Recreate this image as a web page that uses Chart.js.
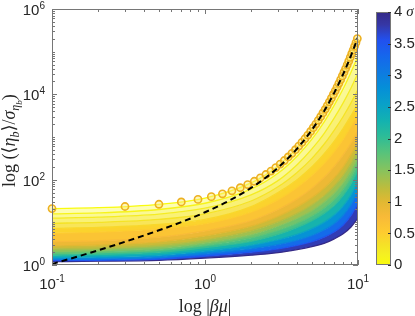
<!DOCTYPE html>
<html>
<head>
<meta charset="utf-8">
<script src="https://cdn.jsdelivr.net/npm/chart.js@4.4.1/dist/chart.umd.min.js"></script>
<style>
  html, body { margin: 0; padding: 0; background: #fff; }
  #wrap { position: relative; width: 415px; height: 316px; }
  #main { position: absolute; left: 0; top: 0; }
  #cbar { position: absolute; left: 360px; top: 0; }
</style>
</head>
<body>
<div id="wrap">
  <canvas id="main" width="415" height="316"></canvas>
  <canvas id="cbar" width="55" height="316"></canvas>
</div>
<script>
// sigma of each drawn curve (colorbar units)
const sigmaLevels = [0, 0.1, 0.2, 0.3, 0.4, 0.5, 0.75, 1, 1.25, 1.5, 1.75, 2, 2.5, 3, 3.5, 4];
// |beta mu| where the curves were read
const curveX = [0.1, 0.2, 0.5, 1, 2, 3, 4, 5, 6, 7, 8, 9, 10];
// <eta_b>/sigma_eta_b, one row per sigma level
const curveValues = [
  [21, 22, 26.5, 37, 84, 210, 556, 1500, 4040, 11000, 29800, 81000, 220000],
  [15.8, 16.6, 20, 28, 60, 141, 355, 890, 2240, 5600, 13500, 33000, 79000],
  [12.6, 13.2, 15.5, 21.4, 44, 95, 224, 525, 1200, 2800, 6300, 14100, 31600],
  [9.5, 10, 11.7, 15.8, 31.6, 68, 148, 316, 676, 1450, 3020, 6300, 13200],
  [7.2, 7.6, 8.9, 11.7, 23.4, 50, 100, 200, 400, 800, 1600, 3160, 6300],
  [5.6, 5.9, 7.1, 9.3, 17.4, 34, 66, 126, 240, 457, 890, 1780, 3550],
  [3.55, 3.7, 4.5, 6.3, 11, 20, 35.5, 63, 112, 204, 380, 724, 1410],
  [2.8, 2.95, 3.5, 4.8, 8.1, 13.8, 23, 38, 63, 110, 200, 390, 790],
  [2.4, 2.5, 2.9, 3.9, 6.3, 10.2, 16.2, 25.7, 41.7, 71, 126, 240, 500],
  [2.1, 2.2, 2.5, 3.3, 5.1, 8.1, 12.3, 18.6, 29.5, 48, 83, 158, 331],
  [1.86, 1.95, 2.24, 2.9, 4.3, 6.5, 9.5, 14.1, 21.4, 34, 59, 112, 234],
  [1.7, 1.78, 2.0, 2.57, 3.6, 5.2, 7.6, 11, 16.2, 25, 42.7, 79, 166],
  [1.48, 1.55, 1.7, 2.14, 2.9, 3.9, 5.2, 7.1, 10, 14.8, 24, 43.7, 93],
  [1.35, 1.38, 1.51, 1.86, 2.4, 3.0, 3.8, 4.9, 6.6, 9.3, 14.5, 25.7, 52.5],
  [1.26, 1.29, 1.38, 1.62, 2.0, 2.4, 2.9, 3.55, 4.5, 6.0, 8.7, 14.5, 28],
  [1.2, 1.23, 1.29, 1.45, 1.7, 1.95, 2.3, 2.7, 3.2, 4.1, 5.4, 7.8, 12.6]
];
// black dashed curve
const dashX = [0.1, 0.2, 0.3, 0.5, 0.7, 1, 1.5, 2, 2.5, 3, 3.5, 4, 5, 6, 7, 8, 9, 10];
const dashY = [1.05, 2.2, 3.5, 6.5, 10.1, 17.2, 34.8, 64, 112, 191, 321, 536, 1474, 4024, 10960, 29800, 81000, 220000];
// circle markers on the sigma = 0 curve
const markX = [0.1, 0.3, 0.5, 0.7, 0.9, 1.1, 1.3, 1.5, 1.7, 1.9, 2.1, 2.3, 2.5, 2.7, 2.9, 3.1, 3.3, 3.5, 3.7, 3.9,
  4.1, 4.3, 4.5, 4.7, 4.9, 5.1, 5.3, 5.5, 5.7, 5.9, 6.1, 6.3, 6.5, 6.7, 6.9, 7.1, 7.3, 7.5, 7.7, 7.9,
  8.1, 8.3, 8.5, 8.7, 8.9, 9.1, 9.3, 9.5, 9.7, 9.9];
const markY = [21, 23.5, 26.5, 30, 34.5, 40, 46.7, 54.8, 64.7, 76.9, 91.7, 110, 132, 159, 192, 232, 281, 341, 414, 504,
  613, 747, 910, 1110, 1350, 1650, 2010, 2460, 2990, 3660, 4470, 5450, 6660, 8130, 9930, 12100, 14800, 18100, 22100, 27000,
  33000, 40300, 49200, 60000, 73300, 89600, 109000, 134000, 163000, 203000];
// labelled ticks: value and exponent text
const xTickValues = [0.1, 1, 10];
const xTickExps = ['-1', '0', '1'];
const yTickValues = [1, 100, 1e4, 1e6];
const yTickExps = ['0', '2', '4', '6'];

const textColor = '#262626';
const boxColor = '#767676';
const sansFont = '"Liberation Sans", Arial, sans-serif';
const serifFont = '"Liberation Serif", "DejaVu Serif", serif';

// parula colormap stops (t, r, g, b)
const parula = [
  [0.000, 53, 42, 135],
  [0.050, 54, 55, 165],
  [0.110, 34, 80, 238],
  [0.175, 21, 103, 236],
  [0.240, 14, 123, 225],
  [0.300, 5, 143, 216],
  [0.365, 9, 161, 200],
  [0.430, 19, 178, 176],
  [0.490, 44, 188, 152],
  [0.556, 87, 195, 123],
  [0.620, 131, 195, 96],
  [0.700, 192, 188, 59],
  [0.750, 225, 184, 50],
  [0.810, 248, 186, 56],
  [0.870, 254, 203, 48],
  [0.920, 245, 225, 39],
  [0.960, 245, 240, 33],
  [1.000, 249, 251, 14]
];

function sigmaColor(s, alpha) {
  const t = 1 - s / 4;
  let i = 0;
  while (i < parula.length - 2 && t > parula[i + 1][0]) i++;
  const a = parula[i], b = parula[i + 1];
  const f = Math.min(1, Math.max(0, (t - a[0]) / (b[0] - a[0])));
  const c = [1, 2, 3].map(k => Math.round(a[k] + (b[k] - a[k]) * f));
  return 'rgba(' + c[0] + ',' + c[1] + ',' + c[2] + ',' + alpha + ')';
}

function isPow10(v) {
  const l = Math.log10(v);
  return Math.abs(l - Math.round(l)) < 1e-9;
}

function drawRich(ctx, segs, x, y) {
  let cx = x;
  segs.forEach(s => {
    ctx.font = s.font;
    ctx.fillText(s.t, cx, y + (s.dy || 0));
    cx += ctx.measureText(s.t).width;
  });
}

function richWidth(ctx, segs) {
  let w = 0;
  segs.forEach(s => { ctx.font = s.font; w += ctx.measureText(s.t).width; });
  return w;
}

// box, inward ticks, tick labels and axis titles
const decor = {
  id: 'decor',
  afterDatasetsDraw(chart) {
    const { ctx, chartArea: a, scales: { x, y } } = chart;
    ctx.save();
    ctx.strokeStyle = boxColor;
    ctx.lineWidth = 1;
    ctx.setLineDash([]);
    ctx.strokeRect(a.left + 0.5, a.top + 0.5, a.right - a.left - 1, a.bottom - a.top - 1);
    ctx.beginPath();
    const xt = [];
    for (let e = -1; e <= 0; e++) for (let m = 1; m <= 9; m++) xt.push(m * Math.pow(10, e));
    xt.push(10);
    xt.forEach(v => {
      const p = Math.round(x.getPixelForValue(v)) + 0.5;
      const len = isPow10(v) ? 5 : 3;
      ctx.moveTo(p, a.bottom); ctx.lineTo(p, a.bottom - len);
      ctx.moveTo(p, a.top); ctx.lineTo(p, a.top + len);
    });
    const yt = [];
    for (let e = 0; e <= 5; e++) for (let m = 1; m <= 9; m++) yt.push(m * Math.pow(10, e));
    yt.push(1e6);
    yt.forEach(v => {
      const p = Math.round(y.getPixelForValue(v)) + 0.5;
      const len = yTickValues.includes(v) ? 5 : 3;
      ctx.moveTo(a.left, p); ctx.lineTo(a.left + len, p);
      ctx.moveTo(a.right, p); ctx.lineTo(a.right - len, p);
    });
    ctx.stroke();
    ctx.restore();
  },
  afterDraw(chart) {
    const { ctx, chartArea: a, scales: { x, y } } = chart;
    ctx.save();
    ctx.fillStyle = textColor;
    ctx.textAlign = 'left';
    ctx.textBaseline = 'alphabetic';
    const baseFont = '15px ' + sansFont;
    const expFont = '10px ' + sansFont;
    xTickValues.forEach((v, i) => {
      const segs = [{ t: '10', font: baseFont }, { t: xTickExps[i], font: expFont, dy: -7 }];
      const w = richWidth(ctx, segs);
      drawRich(ctx, segs, x.getPixelForValue(v) - w / 2, a.bottom + 24);
    });
    yTickValues.forEach((v, i) => {
      const segs = [{ t: '10', font: baseFont }, { t: yTickExps[i], font: expFont, dy: -6 }];
      const w = richWidth(ctx, segs);
      drawRich(ctx, segs, a.left - 7 - w, y.getPixelForValue(v) + 6);
    });
    const rom = '18px ' + serifFont;
    const ita = 'italic 18px ' + serifFont;
    const xt = [{ t: 'log ', font: rom }, { t: '|', font: rom }, { t: 'βμ', font: ita }, { t: '|', font: rom }];
    const xw = richWidth(ctx, xt);
    drawRich(ctx, xt, (a.left + a.right) / 2 - xw / 2, 312);
    const yt = [
      { t: 'log (', font: rom }, { t: '⟨', font: rom }, { t: 'η', font: ita },
      { t: 'b', font: 'italic 12px ' + serifFont, dy: 4 }, { t: '⟩', font: rom }, { t: '/', font: rom },
      { t: 'σ', font: ita }, { t: 'η', font: 'italic 12px ' + serifFont, dy: 4 },
      { t: 'b', font: 'italic 9px ' + serifFont, dy: 7 }, { t: ')', font: rom }
    ];
    ctx.translate(15, 187);
    ctx.rotate(-Math.PI / 2);
    drawRich(ctx, yt, 0, 0);
    ctx.restore();
  }
};

const datasets = [];
datasets.push({
  data: dashX.map((v, i) => ({ x: v, y: dashY[i] })),
  borderColor: '#000', borderWidth: 2, borderDash: [6, 4],
  pointRadius: 0, fill: false, cubicInterpolationMode: 'monotone'
});
datasets.push({
  data: markX.map((v, i) => ({ x: v, y: markY[i] })),
  showLine: false, fill: false, pointRadius: 3.6, pointBorderWidth: 1.6,
  pointBorderColor: '#EDB120', pointBackgroundColor: 'rgba(252,236,120,0.5)',
  clip: { left: 6, right: 6, top: 6, bottom: 6 }
});
sigmaLevels.forEach((s, k) => {
  const mid = k === 0 ? s : (s + sigmaLevels[k - 1]) / 2;
  const alpha = mid < 0.45 ? 0.25 + mid * 1.5 : 1;
  datasets.push({
    data: curveX.map((v, i) => ({ x: v, y: curveValues[k][i] })),
    borderColor: sigmaColor(s, 1),
    borderWidth: 1.3,
    pointRadius: 0,
    cubicInterpolationMode: 'monotone',
    fill: k === 0 ? false : '-1',
    backgroundColor: sigmaColor(mid, alpha)
  });
});

new Chart(document.getElementById('main'), {
  type: 'line',
  data: { datasets: datasets },
  options: {
    responsive: false,
    animation: false,
    devicePixelRatio: 1,
    events: [],
    layout: { padding: { left: 0, top: 9, right: 57, bottom: 0 } },
    plugins: { legend: { display: false }, tooltip: { enabled: false }, filler: { propagate: false } },
    scales: {
      x: {
        type: 'logarithmic', min: 0.1, max: 10,
        ticks: { display: false }, grid: { display: false }, border: { display: false },
        afterFit(s) { s.height = 51; }
      },
      y: {
        type: 'logarithmic', min: 1, max: 1e6,
        ticks: { display: false }, grid: { display: false }, border: { display: false },
        afterFit(s) { s.width = 52; }
      }
    }
  },
  plugins: [decor]
});

// colorbar
const cbDecor = {
  id: 'cbDecor',
  afterDraw(chart) {
    const { ctx, chartArea: a, scales: { y } } = chart;
    ctx.save();
    ctx.strokeStyle = boxColor;
    ctx.lineWidth = 1;
    ctx.strokeRect(a.left + 0.5, a.top + 0.5, a.right - a.left - 1, a.bottom - a.top - 1);
    ctx.beginPath();
    y.ticks.forEach(t => {
      const p = Math.round(y.getPixelForValue(t.value)) + 0.5;
      ctx.moveTo(a.right - 3, p); ctx.lineTo(a.right, p);
    });
    ctx.strokeStyle = '#333';
    ctx.stroke();
    ctx.fillStyle = textColor;
    ctx.font = '15px ' + sansFont;
    const w4 = ctx.measureText('4').width;
    ctx.font = 'italic 15px ' + serifFont;
    ctx.textAlign = 'left';
    ctx.textBaseline = 'alphabetic';
    ctx.fillText('σ', a.right + 3 + w4 + 4, y.getPixelForValue(4) + 4);
    ctx.restore();
  }
};

new Chart(document.getElementById('cbar'), {
  type: 'bar',
  data: {
    labels: [''],
    datasets: [{
      data: [[0, 4]],
      barPercentage: 1,
      categoryPercentage: 1,
      borderWidth: 0,
      backgroundColor(c) {
        const area = c.chart.chartArea;
        if (!area) return 'rgba(0,0,0,0)';
        const g = c.chart.ctx.createLinearGradient(0, area.bottom, 0, area.top);
        parula.forEach(st => {
          g.addColorStop(1 - st[0], 'rgb(' + st[1] + ',' + st[2] + ',' + st[3] + ')');
        });
        return g;
      }
    }]
  },
  options: {
    responsive: false,
    animation: false,
    devicePixelRatio: 1,
    events: [],
    layout: { padding: { left: 16, top: 9, right: 0, bottom: 51 } },
    plugins: { legend: { display: false }, tooltip: { enabled: false } },
    scales: {
      x: { display: false },
      y: {
        position: 'right', min: 0, max: 4,
        ticks: {
          stepSize: 0.5, padding: 3, color: textColor,
          font: { family: sansFont, size: 15 },
          callback: v => String(v)
        },
        grid: { display: false, drawTicks: false }, border: { display: false },
        afterFit(s) { s.width = 24; }
      }
    }
  },
  plugins: [cbDecor]
});
</script>
</body>
</html>
